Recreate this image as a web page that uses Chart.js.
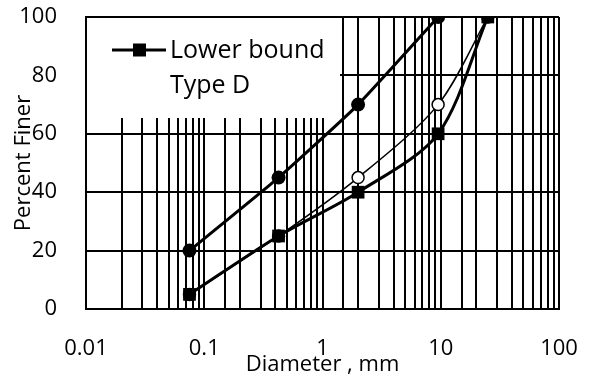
<!DOCTYPE html>
<html>
<head>
<meta charset="utf-8">
<script src="https://cdn.jsdelivr.net/npm/chart.js@4.4.1/dist/chart.umd.min.js"></script>
<style>
  html, body { margin: 0; padding: 0; background: #fff; }
  #wrap { width: 589px; height: 378px; }
</style>
</head>
<body>
<div id="wrap"><canvas id="chart"></canvas></div>
<script>
// sieve sizes (mm) and percent passing
const lowerX = [0.075, 0.425, 2, 9.5, 25];
const lowerY = [5, 25, 40, 60, 100];
const upperX = [0.075, 0.425, 2, 9.5];
const upperY = [20, 45, 70, 100];
const typeDX = [0.075, 0.425, 2, 9.5, 25];
const typeDY = [5, 25, 45, 70, 100];
const yTicks = [0, 20, 40, 60, 80, 100];

const toPoints = (xs, ys) => xs.map((x, i) => ({ x: x, y: ys[i] }));

// white legend box sitting over the grid, under the lines
const legendBox = {
  id: 'legendBox',
  beforeDatasetsDraw(chart) {
    const ctx = chart.ctx;
    const area = chart.chartArea;
    ctx.save();
    ctx.fillStyle = '#fff';
    ctx.fillRect(area.left + 1, area.top + 1, 253, 100);
    // sample line for lower bound
    const ly = area.top + 33;
    ctx.strokeStyle = '#000';
    ctx.lineWidth = 3;
    ctx.beginPath();
    ctx.moveTo(112, ly);
    ctx.lineTo(166, ly);
    ctx.stroke();
    ctx.fillStyle = '#000';
    ctx.fillRect(133, ly - 6.5, 13, 13);
    ctx.font = '25px "Open Sans"';
    ctx.textBaseline = 'middle';
    ctx.fillText(chart.data.datasets[0].label, 170, ly + 1);
    ctx.fillText(chart.data.datasets[2].label, 170, ly + 36);
    ctx.restore();
  }
};

new Chart(document.getElementById('chart'), {
  type: 'line',
  data: {
    datasets: [
      {
        label: 'Lower bound',
        data: toPoints(lowerX, lowerY),
        borderColor: '#000',
        borderWidth: 3,
        tension: 0.3,
        pointStyle: 'rect',
        pointRadius: 9,
        pointBackgroundColor: '#000',
        pointBorderColor: '#000',
        pointBorderWidth: 0
      },
      {
        label: 'Upper bound',
        data: toPoints(upperX, upperY),
        borderColor: '#000',
        borderWidth: 3,
        tension: 0.15,
        pointStyle: 'circle',
        pointRadius: 7,
        pointBackgroundColor: '#000',
        pointBorderColor: '#000',
        pointBorderWidth: 0
      },
      {
        label: 'Type D',
        data: toPoints(typeDX, typeDY),
        borderColor: '#000',
        borderWidth: 1.5,
        tension: 0.3,
        pointStyle: 'circle',
        pointRadius: 6,
        pointBackgroundColor: '#fff',
        pointBorderColor: '#000',
        pointBorderWidth: 1.5
      }
    ]
  },
  options: {
    responsive: true,
    maintainAspectRatio: false,
    animation: false,
    layout: { padding: { top: 17, right: 30, left: 0, bottom: 0 } },
    plugins: {
      legend: { display: false },
      tooltip: { enabled: false }
    },
    scales: {
      x: {
        type: 'logarithmic',
        min: 0.01,
        max: 100,
        border: { color: '#000', width: 2 },
        grid: { color: '#000', lineWidth: 2, drawTicks: false },
        ticks: {
          autoSkip: false,
          maxRotation: 0,
          padding: 27,
          color: '#000',
          font: { family: 'Open Sans', size: 22 },
          callback: function (v) {
            const l = Math.log10(v);
            if (Math.abs(l - Math.round(l)) > 1e-6) return '';
            const n = Math.round(l);
            return n < 0 ? (Math.pow(10, n)).toFixed(-n) : String(Math.pow(10, n));
          }
        },
        title: {
          display: true,
          text: 'Diameter , mm',
          color: '#000',
          font: { family: 'Open Sans', size: 22 },
          padding: { top: 0, bottom: 0 }
        },
        afterFit(scale) {
          scale.height = 69;
          scale.paddingLeft = 0;
          scale.paddingRight = 0;
        }
      },
      y: {
        min: 0,
        max: 100,
        border: { color: '#000', width: 2 },
        grid: { color: '#000', lineWidth: 2, drawTicks: false },
        afterBuildTicks(scale) { scale.ticks = yTicks.map(v => ({ value: v })); },
        ticks: {
          padding: 29,
          color: '#000',
          font: { family: 'Open Sans', size: 22 }
        },
        title: {
          display: true,
          text: 'Percent Finer',
          color: '#000',
          font: { family: 'Open Sans', size: 22 },
          padding: { top: 11, bottom: 0 }
        },
        afterFit(scale) {
          scale.width = 86;
          scale.paddingTop = 0;
          scale.paddingBottom = 0;
        }
      }
    }
  },
  plugins: [legendBox]
});
</script>
</body>
</html>
